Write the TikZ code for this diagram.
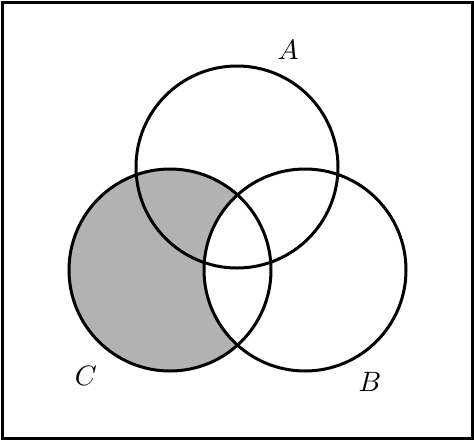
\documentclass[tikz,border=0pt]{standalone}
\begin{document}
\begin{tikzpicture}[x=1pt,y=-1pt,circ/.style={line width=3pt},lab/.style={scale=2.8}]
\useasboundingbox (0,0) rectangle (474,440);
\draw[line width=3pt] (2,2) rectangle (472,438);
\coordinate (a) at (237,167);
\coordinate (b) at (305,270);
\coordinate (c) at (170,270);
\begin{scope}
\clip (c) circle (101);
\fill[black!30] (c) circle (101);
\fill[white] (b) circle (101);
\end{scope}
\draw[circ] (a) circle (101);
\draw[circ] (b) circle (101);
\draw[circ] (c) circle (101);
\node[lab] (la) at (288,50) {$A$};
\node[lab] (lb) at (370,382) {$B$};
\node[lab] (lc) at (86,376) {$C$};
\end{tikzpicture}
\end{document}
